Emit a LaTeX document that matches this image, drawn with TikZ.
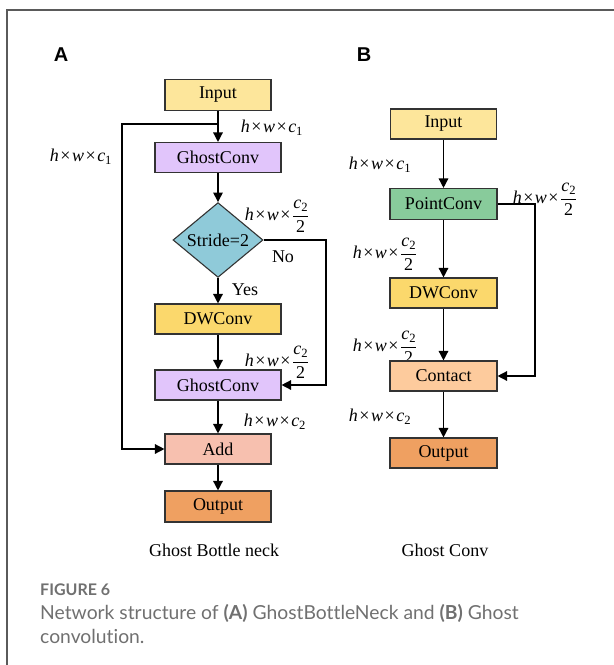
\documentclass[tikz,border=0pt]{standalone}
\usepackage{fontspec}
\setmainfont{Liberation Serif}
\newfontfamily\labelfont{Liberation Sans}
\newfontfamily\capfont[Ligatures=NoCommon]{Lato}
\usetikzlibrary{shapes.geometric,arrows.meta}

\definecolor{frameline}{HTML}{5A5A5A}
\definecolor{boxline}{HTML}{333333}
\definecolor{cInput}{HTML}{FDE69B}
\definecolor{cGhost}{HTML}{E1C5FB}
\definecolor{cStride}{HTML}{8FCAD9}
\definecolor{cDW}{HTML}{FBD86C}
\definecolor{cAdd}{HTML}{F7C0AF}
\definecolor{cOut}{HTML}{EFA061}
\definecolor{cPoint}{HTML}{88CB9B}
\definecolor{cContact}{HTML}{FDCB9D}
\definecolor{capgray}{HTML}{707070}

% dimension labels such as h x w x c_1
\newcommand{\tms}{\kern1.5pt×\kern1.5pt}
\newcommand{\dimA}[1]{\textit{h}\tms\textit{w}\tms\textit{c}\textsubscript{#1}}
\newcommand{\dimHalf}{\textit{h}\tms\textit{w}\tms$\displaystyle\frac{\mbox{\textit{c}\textsubscript{2}}}{\mbox{2}}$}

\tikzset{
  blk/.style={draw=boxline, line width=1.1pt, minimum height=30pt, inner sep=0pt, font=\fontsize{18}{21}\selectfont},
  wideblk/.style={blk, minimum width=126pt},
  narrowblk/.style={blk, minimum width=106pt},
  arr/.style={line width=1.4pt, -{Triangle[length=9.5pt,width=9.5pt]}},
  dimlbl/.style={font=\fontsize{18}{21}\selectfont, inner sep=0pt},
  panelcap/.style={font=\fontsize{18}{21}\selectfont},
}

\begin{document}
\begin{tikzpicture}[x=1pt,y=-1pt]
\useasboundingbox (0,0) rectangle (614,665);
% page frame
\draw[frameline, line width=1.4pt] (7,665) -- (7,10) -- (614,10);

% panel letters
\node[font=\labelfont\bfseries\fontsize{20}{24}\selectfont] (ltrA) at (61,55) {A};
\node[font=\labelfont\bfseries\fontsize{20}{24}\selectfont] (ltrB) at (364,55) {B};

% ---------------- Ghost bottleneck ----------------
\node[narrowblk, fill=cInput, minimum height=31pt] (inA) at (218,95) {Input};
\node[wideblk, fill=cGhost] (gc1) at (218,157.5) {GhostConv};
\node[diamond, draw=boxline, line width=1.1pt, fill=cStride, minimum width=90pt, minimum height=64pt, inner sep=0pt, font=\fontsize{18}{21}\selectfont] (dia) at (218,240) {Stride=2};
\node[wideblk, fill=cDW] (dwA) at (218,319) {DWConv};
\node[wideblk, fill=cGhost] (gc2) at (218,385) {GhostConv};
\node[narrowblk, fill=cAdd] (add) at (218,449) {Add};
\node[narrowblk, fill=cOut, minimum height=31pt] (outA) at (218,506.5) {Output};

\coordinate (brA) at (218,124);
\coordinate (skipA) at (122,124);
\coordinate (noA) at (326,240);

\draw[arr] (inA) -- (gc1);
\draw[arr] (brA) -- (skipA) |- (add.west);
\draw[arr] (gc1) -- (dia);
\draw[arr] (dia) -- (dwA);
\draw[arr] (dia.east) -- (noA) |- (gc2.east);
\draw[arr] (dwA) -- (gc2);
\draw[arr] (gc2) -- (add);
\draw[arr] (add) -- (outA);

\node[dimlbl] (lA1) at (272,128) {\dimA{1}};
\node[dimlbl] (lA0) at (81,157) {\dimA{1}};
\node[dimlbl] (lA2) at (277,216) {\dimHalf};
\node[dimlbl] (lNo) at (283,257) {No};
\node[dimlbl] (lYes) at (245,290) {Yes};
\node[dimlbl] (lA3) at (277,362) {\dimHalf};
\node[dimlbl] (lA4) at (275,422) {\dimA{2}};

\node[panelcap] (capA) at (214,550) {Ghost Bottle neck};

% ---------------- Ghost convolution ----------------
% the label above Contact sits behind the box
\node[dimlbl] (lB3) at (385,347) {\dimHalf};

\node[narrowblk, fill=cInput] (inB) at (443.5,124) {Input};
\node[blk, minimum width=107pt, fill=cPoint, minimum height=31pt] (pc) at (443.5,204) {PointConv};
\node[blk, minimum width=107pt, fill=cDW] (dwB) at (443.5,293) {DWConv};
\node[blk, minimum width=107pt, fill=cContact] (ct) at (443.5,376) {Contact};
\node[blk, minimum width=107pt, fill=cOut] (outB) at (443.5,453) {Output};

\coordinate (skipB) at (535,204);

\draw[arr] (inB) -- (pc);
\draw[arr] (pc) -- (dwB);
\draw[arr] (pc.east) -- (skipB) |- (ct.east);
\draw[arr] (dwB) -- (ct);
\draw[arr] (ct) -- (outB);

\node[dimlbl] (lB1) at (380,165) {\dimA{1}};
\node[dimlbl] (lB2) at (385,254) {\dimHalf};
\node[dimlbl] (lB4) at (545,199) {\dimHalf};
\node[dimlbl] (lB5) at (380,417) {\dimA{2}};

\node[panelcap] (capB) at (445,550) {Ghost Conv};

% ---------------- figure caption ----------------
\node[anchor=west, inner sep=0pt, text=capgray, font=\capfont\bfseries\fontsize{16}{19}\selectfont] (fig) at (40,590) {FIGURE 6};
\node[anchor=north west, inner sep=0pt, align=left, text=capgray, font=\capfont\fontsize{19.3}{24}\selectfont] (cap) at (40,604)
  {Network structure of {\bfseries(A)} GhostBottleNeck and {\bfseries(B)} Ghost\\convolution.};
\end{tikzpicture}
\end{document}
